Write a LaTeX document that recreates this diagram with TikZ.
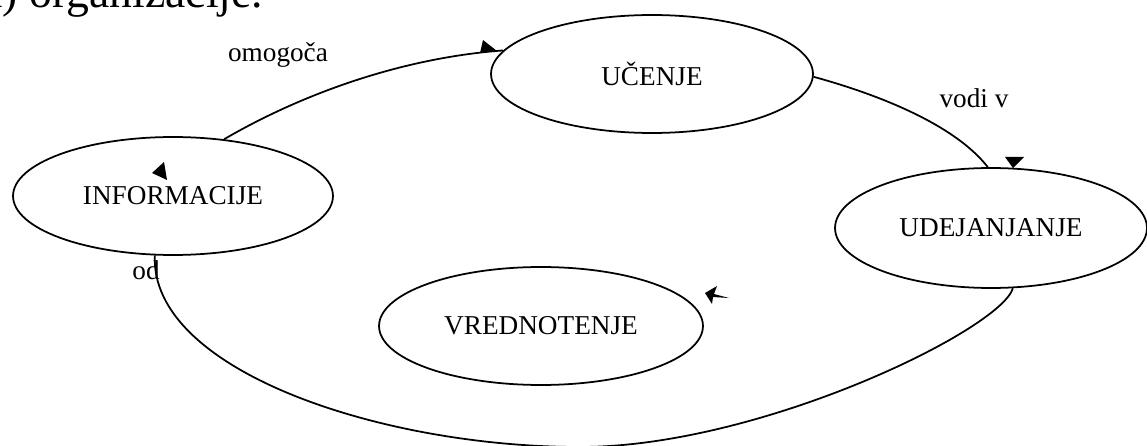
\documentclass[tikz,border=0pt]{standalone}
\usepackage{fontspec}
\setmainfont{Liberation Serif}
\usetikzlibrary{shapes.geometric}

\tikzset{
  faza/.style={ellipse, draw, line width=1pt, inner sep=0pt, font=\fontsize{15.5}{18}\selectfont},
  oznaka/.style={font=\fontsize{15.5}{18}\selectfont},
  konica/.style={fill=black}
}

\begin{document}
\begin{tikzpicture}[x=0.02cm, y=-0.02cm, line width=1pt]
        \useasboundingbox (0,0) rectangle (1147,446);
        \node [anchor=base east, font=\fontsize{26}{30}\selectfont] (NASLOV) at (270,8) {a) organizacije.};
        \node [faza, minimum width=6.44cm, minimum height=2.36cm] (UC) at (652,74) {UČENJE};
        \node [faza, minimum width=6.4cm, minimum height=2.36cm] (INF) at (173,196) {INFORMACIJE};
        \node [faza, minimum width=6.24cm, minimum height=2.4cm] (UD) at (991,228) {UDEJANJANJE};
        \node [faza, minimum width=6.48cm, minimum height=2.36cm] (VR) at (541,326) {VREDNOTENJE};
        \coordinate (DNO) at (580,447);
        \node [oznaka] (OMO) at (278,55) {omogoča};
        \node [oznaka] (VODI) at (974,98) {vodi v};
        \node [oznaka] (OD) at (146,270) {od};
        \draw (INF.48) .. controls (300,95) and (400,58) .. (UC.171);
        \draw (UC.-1) .. controls (880,95) and (955,125) .. (UD.93);
        \draw (UD.-70) .. controls (1000,330) and (760,447) .. (DNO)
              .. controls (380,447) and (150,370) .. (INF.-107);
        \fill [konica] (480,53) -- (483,40) -- (497,51) -- cycle;
        \fill [konica] (1005,157) -- (1024,157) -- (1013,168) -- cycle;
        \fill [konica] (152,173) -- (164,162) -- (167,180) -- cycle;
        \fill [konica] (705,293) -- (717,286) -- (714,294) -- (729,298) -- (713,297) -- (712,304) -- cycle;
\end{tikzpicture}
\end{document}
